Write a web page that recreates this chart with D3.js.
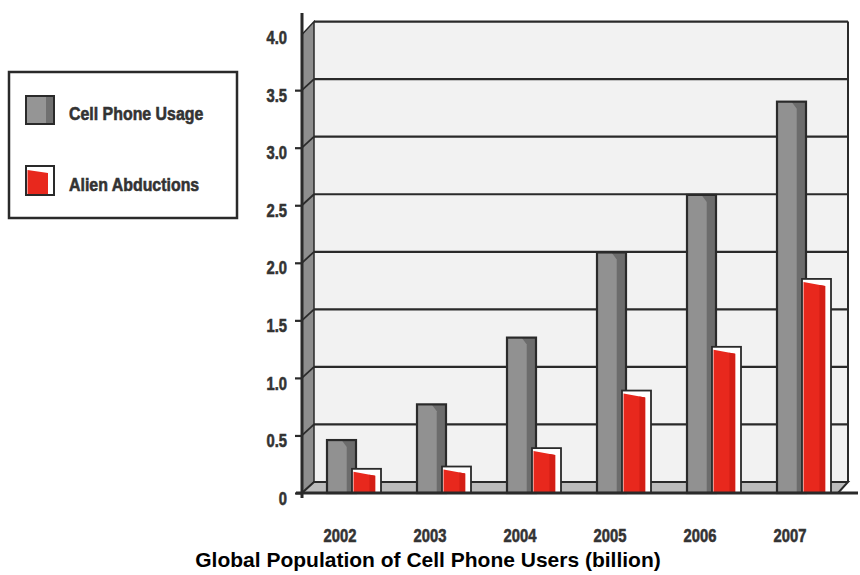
<!DOCTYPE html>
<html>
<head>
<meta charset="utf-8">
<script src="https://cdn.jsdelivr.net/npm/d3@7"></script>
<style>
  html, body { margin: 0; padding: 0; background: #ffffff; }
  svg { display: block; }
  .cond { font-family: "Liberation Sans", Arial, sans-serif; font-weight: bold; fill: #333333; stroke: #333333; stroke-width: 0.6px; }
</style>
</head>
<body>
<svg id="chart" width="860" height="575"></svg>
<script>
// Chart data
const years = ["2002", "2003", "2004", "2005", "2006", "2007"];
const seriesNames = ["Cell Phone Usage", "Alien Abductions"];
const cellPhoneUsage = [0.46, 0.77, 1.35, 2.09, 2.59, 3.40];
const alienAbductions = [0.21, 0.23, 0.39, 0.89, 1.27, 1.86];
const yTickValues = [0, 0.5, 1.0, 1.5, 2.0, 2.5, 3.0, 3.5, 4.0];
const yTickLabels = ["0", "0.5", "1.0", "1.5", "2.0", "2.5", "3.0", "3.5", "4.0"];
const chartTitle = "Global Population of Cell Phone Users (billion)";

const svg = d3.select("#chart");

// Narrow bold lettering: regular bold face squeezed horizontally
const squeeze = 0.82;

// Front plane scales
const y = d3.scaleLinear().domain([0, 4]).range([493, 32.6]);
const x = d3.scaleBand().domain(years).range([315, 855]);
const xSeries = d3.scaleBand().domain(seriesNames).range([12, 66]);

// 3D depth offset of the back wall
const depthX = 12, depthY = -11;
const axisX = 302;
const wallRight = 848;

const ink = "#2a2a2a";

// Back wall
svg.append("rect")
  .attr("x", axisX + depthX).attr("y", y(4) + depthY)
  .attr("width", wallRight - axisX - depthX)
  .attr("height", y(0) - y(4))
  .attr("fill", "#f2f2f2");

// Side wall
svg.append("path")
  .attr("d", `M${axisX},${y(4) + 2} L${axisX + depthX},${y(4) + depthY} L${axisX + depthX},${y(0) + depthY} L${axisX},${y(0)} Z`)
  .attr("fill", "#8e8e8e").attr("stroke", ink).attr("stroke-width", 1.5);

// Floor
svg.append("path")
  .attr("d", `M${axisX},${y(0)} L${axisX + depthX},${y(0) + depthY} L${wallRight},${y(0) + depthY} L${wallRight - 10},${y(0)} Z`)
  .attr("fill", "#bcbcbc").attr("stroke", ink).attr("stroke-width", 2);

// Grid lines on the back wall, with their diagonals across the side wall
const grid = svg.append("g");
yTickValues.filter(v => v > 0).forEach(v => {
  grid.append("line")
    .attr("x1", axisX + depthX).attr("x2", wallRight)
    .attr("y1", y(v) + depthY).attr("y2", y(v) + depthY)
    .attr("stroke", ink).attr("stroke-width", 2.2);
  if (v < 4) {
    grid.append("line")
      .attr("x1", axisX).attr("x2", axisX + depthX)
      .attr("y1", y(v)).attr("y2", y(v) + depthY)
      .attr("stroke", ink).attr("stroke-width", 1.8);
  }
});
// Right edge of back wall
svg.append("line")
  .attr("x1", wallRight).attr("x2", wallRight)
  .attr("y1", y(4) + depthY).attr("y2", y(0) + depthY)
  .attr("stroke", ink).attr("stroke-width", 2);

// Bars
const barW = 29;
const bars = svg.append("g");

years.forEach((yr, i) => {
  // Cell phone bar: grey column with shaded right face
  const gx = x(yr) + xSeries(seriesNames[0]);
  const gTop = y(cellPhoneUsage[i]);
  const gBot = y(0);
  const g = bars.append("g");
  g.append("rect")
    .attr("x", gx).attr("y", gTop).attr("width", barW).attr("height", gBot - gTop)
    .attr("fill", "#6c6c6c");
  g.append("path")
    .attr("d", `M${gx},${gTop} L${gx + barW * 0.5},${gTop} L${gx + barW * 0.68},${gTop + 7} L${gx + barW * 0.68},${gBot} L${gx},${gBot} Z`)
    .attr("fill", "#919191");
  g.append("rect")
    .attr("x", gx).attr("y", gTop).attr("width", barW).attr("height", gBot - gTop)
    .attr("fill", "none").attr("stroke", ink).attr("stroke-width", 2.2);

  // Alien abduction bar: white box with red fill and slanted top
  const rx = x(yr) + xSeries(seriesNames[1]) - 2;
  const rTop = y(alienAbductions[i]);
  const r = bars.append("g");
  r.append("rect")
    .attr("x", rx).attr("y", rTop).attr("width", barW).attr("height", gBot - rTop)
    .attr("fill", "#ffffff").attr("stroke", ink).attr("stroke-width", 1.8);
  r.append("path")
    .attr("d", `M${rx + 1.5},${rTop + 3} L${rx + barW * 0.8},${rTop + 7} L${rx + barW * 0.8},${gBot} L${rx + 1.5},${gBot} Z`)
    .attr("fill", "#e8281d");
  r.append("path")
    .attr("d", `M${rx + barW * 0.6},${rTop + 6} L${rx + barW * 0.8},${rTop + 7} L${rx + barW * 0.8},${gBot} L${rx + barW * 0.6},${gBot} Z`)
    .attr("fill", "#d41f16");
});

// Front base line and vertical axis line
svg.append("line")
  .attr("x1", 296).attr("x2", 858).attr("y1", y(0)).attr("y2", y(0))
  .attr("stroke", ink).attr("stroke-width", 3);
svg.append("line")
  .attr("x1", axisX).attr("x2", axisX).attr("y1", 13).attr("y2", y(0) + 5)
  .attr("stroke", ink).attr("stroke-width", 3);

// Y axis ticks and labels
const tickSize = 7, tickPad = 8;
const yAxis = d3.axisLeft(y)
  .tickValues(yTickValues)
  .tickFormat((d, i) => yTickLabels[i])
  .tickSize(tickSize)
  .tickPadding(tickPad);
const ax = svg.append("g").attr("transform", `translate(${axisX},0)`).call(yAxis);
ax.select(".domain").remove();
ax.selectAll(".tick line").attr("stroke", ink).attr("stroke-width", 2.2)
  .filter(d => d === 4).remove();
ax.selectAll(".tick text")
  .attr("class", "cond")
  .attr("font-size", 18)
  .attr("x", -(tickSize + tickPad) / squeeze)
  .attr("dy", "0.62em")
  .attr("transform", `scale(${squeeze},1)`)
  .attr("fill", "#333333");

// Year labels
svg.append("g").selectAll("text")
  .data(years).join("text")
  .attr("class", "cond")
  .attr("transform", d => `translate(${x(d) + 25},542) scale(${squeeze},1)`)
  .attr("text-anchor", "middle")
  .attr("font-size", 18)
  .text(d => d);

// Title
svg.append("text")
  .attr("x", 428).attr("y", 567)
  .attr("text-anchor", "middle")
  .attr("font-family", "'Liberation Sans', Arial, sans-serif")
  .attr("font-weight", "bold")
  .attr("font-size", 21)
  .attr("fill", "#000000")
  .text(chartTitle);

// Legend
const legend = svg.append("g");
legend.append("rect")
  .attr("x", 9).attr("y", 72).attr("width", 228).attr("height", 146)
  .attr("fill", "#ffffff").attr("stroke", ink).attr("stroke-width", 2.5);

// Grey swatch
legend.append("rect").attr("x", 26).attr("y", 96).attr("width", 28).attr("height", 28).attr("fill", "#707070");
legend.append("rect").attr("x", 26).attr("y", 96).attr("width", 20).attr("height", 28).attr("fill", "#959595");
legend.append("rect").attr("x", 26).attr("y", 96).attr("width", 28).attr("height", 28)
  .attr("fill", "none").attr("stroke", ink).attr("stroke-width", 2);
// Red swatch
legend.append("rect").attr("x", 26).attr("y", 166).attr("width", 28).attr("height", 29)
  .attr("fill", "#ffffff").attr("stroke", ink).attr("stroke-width", 2);
legend.append("path").attr("d", "M27.5,170 L48,173 L48,194 L27.5,194 Z").attr("fill", "#e8281d");

legend.selectAll("text.lbl")
  .data(seriesNames).join("text")
  .attr("class", "cond lbl")
  .attr("transform", (d, i) => `translate(69,${i === 0 ? 120 : 191}) scale(0.86,1)`)
  .attr("font-size", 18.5)
  .text(d => d);
</script>
</body>
</html>
